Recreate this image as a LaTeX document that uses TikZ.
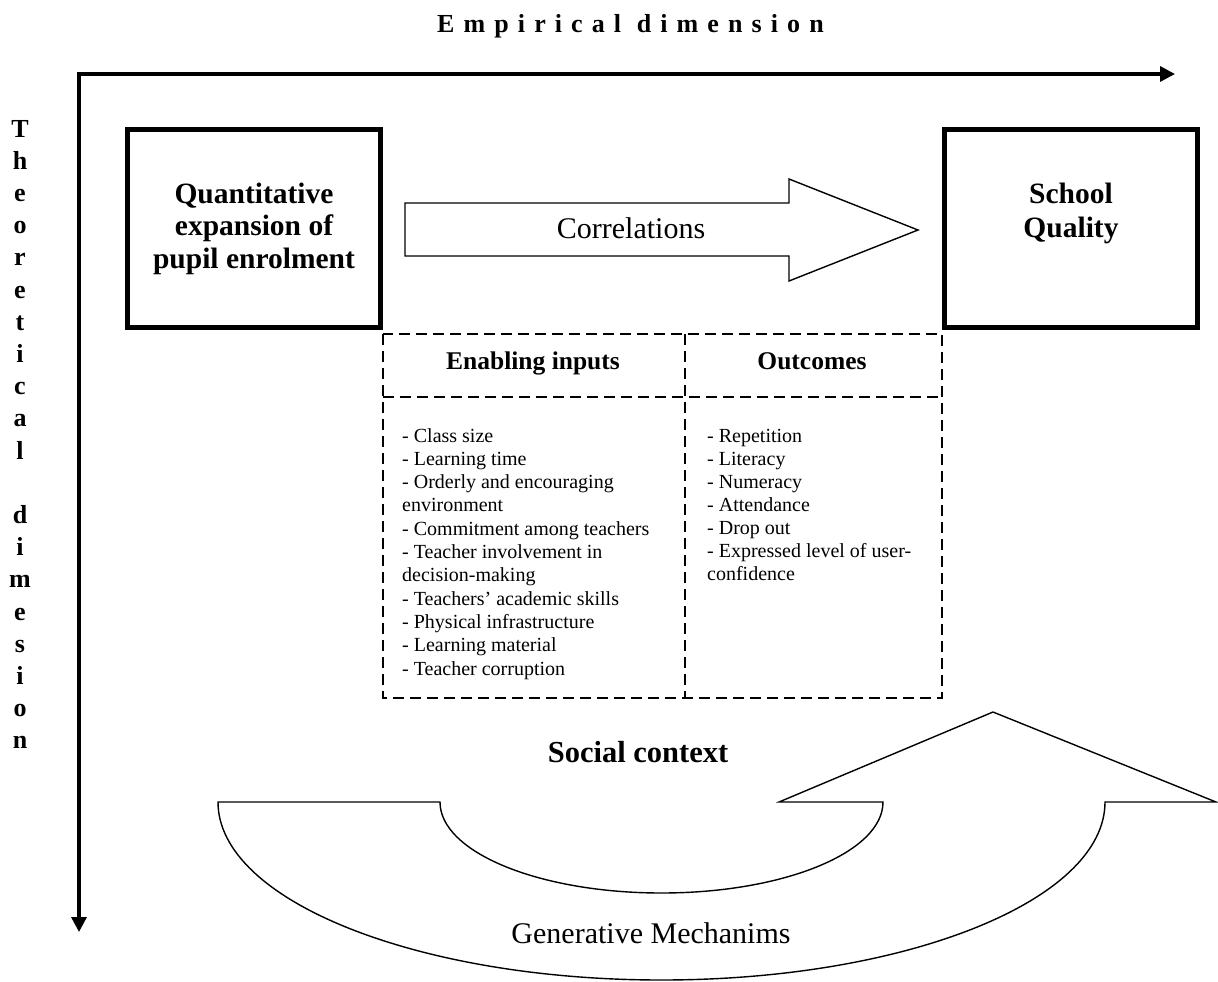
\documentclass[tikz,border=0pt]{standalone}
\usepackage{fontspec}
\setmainfont{Liberation Serif}
\usetikzlibrary{arrows.meta}
\begin{document}
\begin{tikzpicture}[x=1pt,y=-1pt,
  thickbox/.style={draw, line width=5pt, minimum width=253pt, minimum height=198pt, inner sep=0pt},
  boxtxt/.style={font=\fontsize{29.5}{32}\selectfont\bfseries, anchor=base, inner sep=0pt},
  listtxt/.style={font=\fontsize{20}{23}\selectfont, anchor=base west, inner sep=0pt},
  headtxt/.style={font=\fontsize{25.5}{28}\selectfont\bfseries, anchor=base, inner sep=0pt},
  bigtxt/.style={font=\fontsize{30}{33}\selectfont, anchor=base, inner sep=0pt},
  dimtxt/.style={font=\fontsize{26}{28}\selectfont\bfseries, inner sep=0pt},
  axisline/.style={line width=3.3pt, line join=miter, {Triangle[length=15pt,width=15pt]}-{Triangle[length=15pt,width=15pt]}},
  dashline/.style={line width=2pt, dash pattern=on 11pt off 6pt},
  outline/.style={draw, line width=1.4pt, line join=miter, fill=white},
]
\useasboundingbox (0,0) rectangle (1218,982);

% axes
\coordinate (origin) at (79,74);
\coordinate (xend) at (1175,74);
\coordinate (yend) at (79,932);
\draw[axisline] (yend) -- (origin) -- (xend);

% axis titles
\node[dimtxt, anchor=base west] (emp) at (437,33) {\addfontfeature{LetterSpace=35}Empirical dimension};
\foreach \ch/\k in {T/0,h/1,e/2,o/3,r/4,e/5,t/6,i/7,c/8,a/9,l/10,d/12,i/13,m/14,e/15,s/16,i/17,o/18,n/19}
  \node[dimtxt, anchor=base] (th-\k) at (20,{137+\k*32.2}) {\ch};

% main boxes
\node[thickbox] (qe) at (254,228.5) {};
\node[boxtxt] (qe1) at (254,203) {Quantitative};
\node[boxtxt] (qe2) at (254,235.5) {expansion of};
\node[boxtxt] (qe3) at (254,268) {pupil enrolment};

\node[thickbox] (sq) at (1071,228.5) {};
\node[boxtxt] (sq1) at (1071,203) {School};
\node[boxtxt] (sq2) at (1071,237) {Quality};

% correlations arrow
\draw[outline] (405,203) -- (789,203) -- (789,179) -- (918,230) -- (789,281) -- (789,256) -- (405,256) -- cycle;
\node[bigtxt] (corr) at (631,238) {Correlations};

% dashed table
\coordinate (tnw) at (383,334);
\coordinate (tse) at (942,698);
\draw[dashline] (tnw) rectangle (tse);
\draw[dashline] (383,397) -- (942,397);
\draw[dashline] (685,334) -- (685,698);
\node[headtxt] (ei) at (533,369) {Enabling inputs};
\node[headtxt] (oc) at (812,369) {Outcomes};

\foreach \t [count=\i from 0] in {- Class size, - Learning time, - Orderly and encouraging, environment, - Commitment among teachers, - Teacher involvement in, decision-making, - Teachers’ academic skills, - Physical infrastructure, - Learning material, - Teacher corruption}
  \node[listtxt] (ein-\i) at (402,{442+\i*23.3}) {\t};
\foreach \t [count=\i from 0] in {- Repetition, - Literacy, - Numeracy, - Attendance, - Drop out, - Expressed level of user-, confidence}
  \node[listtxt] (out-\i) at (707,{442+\i*23}) {\t};

% social context
\node[headtxt, font=\fontsize{30.5}{33}\selectfont\bfseries] (sc) at (638,762) {Social context};

% U-shaped arrow
\draw[outline] (218,802) -- (440,802) arc[start angle=180,end angle=0,x radius=221.5,y radius=91]
  -- (779,802) -- (993,712) -- (1216,802) -- (1105,802)
  arc[start angle=0,end angle=180,x radius=443.5,y radius=178] -- cycle;
\node[bigtxt] (gm) at (651,943) {Generative Mechanims};
\end{tikzpicture}
\end{document}
